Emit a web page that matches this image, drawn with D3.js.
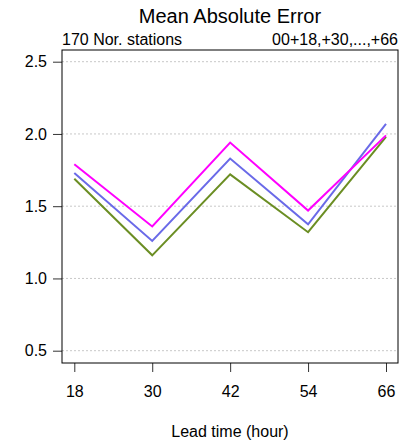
<!DOCTYPE html>
<html><head><meta charset="utf-8">
<script src="https://cdn.jsdelivr.net/npm/d3@7"></script>
<style>body{margin:0;background:#fff}svg{display:block;font-family:"Liberation Sans",Arial,Helvetica,sans-serif}</style>
</head><body>
<script>
const leadTimes = [18, 30, 42, 54, 66];
const seriesMagenta = [1.79, 1.36, 1.94, 1.47, 1.99];
const seriesBlue = [1.73, 1.26, 1.83, 1.375, 2.07];
const seriesGreen = [1.69, 1.16, 1.72, 1.32, 1.98];
const yTicks = [0.5, 1.0, 1.5, 2.0, 2.5];
const seriesColors = ["#ff00ff", "#6a6ae8", "#6b8e23"];

const W = 413, H = 444;
const L = 62, R = 398, T = 50, B = 363;
const svg = d3.select("body").append("svg").attr("width", W).attr("height", H);

const x = d3.scaleLinear().domain([18, 66]).range([74.3, 386]);
const y = d3.scaleLinear().domain([0.5, 2.5]).range([350.7, 61.7]);

// grid
svg.append("g").selectAll("line").data(yTicks).join("line")
  .attr("x1", L).attr("x2", R).attr("y1", d => y(d)).attr("y2", d => y(d))
  .attr("stroke", "#c8c8c8").attr("stroke-width", 1).attr("stroke-dasharray", "2,2");

// y axis
const ya = svg.append("g").attr("transform", `translate(${L},0)`)
  .call(d3.axisLeft(y).tickValues(yTicks).tickFormat(d3.format(".1f")).tickSize(9).tickPadding(6));
ya.select(".domain").remove();
ya.selectAll("line").attr("stroke", "#333");
ya.selectAll("text").attr("font-size", 16).attr("fill", "#000").attr("font-family", "Liberation Sans, Arial, sans-serif");

// x axis
const xa = svg.append("g").attr("transform", `translate(0,${B})`)
  .call(d3.axisBottom(x).tickValues(leadTimes).tickFormat(d3.format("d")).tickSize(9).tickPadding(14));
xa.select(".domain").remove();
xa.selectAll("line").attr("stroke", "#333");
xa.selectAll("text").attr("font-size", 16).attr("fill", "#000").attr("font-family", "Liberation Sans, Arial, sans-serif");

// lines
const line = d3.line().x((d, i) => x(leadTimes[i])).y(d => y(d));
const all = [seriesMagenta, seriesBlue, seriesGreen];
// draw order: green, blue, magenta? keep magenta on top at crossing
[2, 1, 0].forEach(k => {
  svg.append("path").datum(all[k]).attr("d", line)
    .attr("fill", "none").attr("stroke", seriesColors[k]).attr("stroke-width", 2);
});

// box
svg.append("rect").attr("x", L).attr("y", T).attr("width", R - L).attr("height", B - T)
  .attr("fill", "none").attr("stroke", "#000").attr("stroke-width", 1);

// titles
svg.append("text").attr("x", (L + R) / 2).attr("y", 23).attr("text-anchor", "middle")
  .attr("font-size", 20).text("Mean Absolute Error");
svg.append("text").attr("x", L).attr("y", 45).attr("font-size", 16).text("170 Nor. stations");
svg.append("text").attr("x", R).attr("y", 45).attr("text-anchor", "end").attr("font-size", 16).text("00+18,+30,...,+66");
svg.append("text").attr("x", (L + R) / 2).attr("y", 437).attr("text-anchor", "middle")
  .attr("font-size", 16).text("Lead time (hour)");
</script>
</body></html>
